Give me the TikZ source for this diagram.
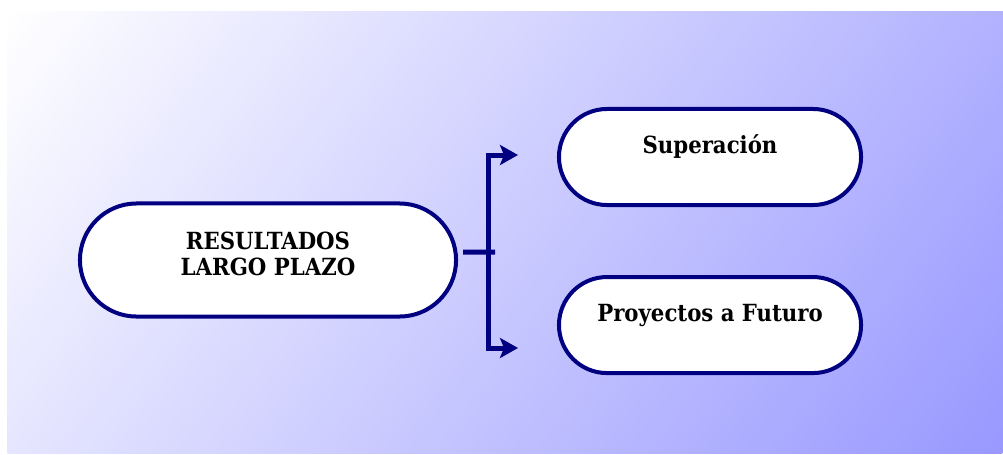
\documentclass[tikz,border=0pt]{standalone}
\usepackage{fontspec}
\setmainfont{DejaVu Serif Condensed}
\usepackage{tikz}
\usetikzlibrary{positioning,arrows.meta,shapes.misc}
\definecolor{navyline}{RGB}{0,0,128}
\definecolor{bgblue}{RGB}{152,152,255}

\begin{document}
\begin{tikzpicture}[x=0.025cm,y=-0.025cm,
	pillnode/.style={rounded rectangle, draw=navyline, fill=white, line width=0.1cm, inner sep=0pt, font=\bfseries\fontsize{16.8}{17.8}\selectfont},
	forkline/.style={draw=navyline, line width=0.125cm},
	]
	%Background
	\useasboundingbox (0,0) rectangle (1003,454);
	\begin{scope}
		\clip (7,11) rectangle (1003,453);
		\shade[left color=white, right color=bgblue, transform canvas={shift={(7,11)}, rotate=-36.6}] (0,-594) rectangle (1063,355);
	\end{scope}

	%Nodes
	\node[pillnode, minimum width=9.4cm, minimum height=2.825cm, align=center, text height=1cm, text depth=0.25cm] (res) at (268,260) {RESULTADOS\\LARGO PLAZO};
	\node[pillnode, minimum width=7.55cm, minimum height=2.4cm, text height=0.375cm, text depth=0.575cm] (sup) at (710,157) {Superación};
	\node[pillnode, minimum width=7.55cm, minimum height=2.4cm, text height=0.375cm, text depth=0.575cm] (proy) [below=1.7cm of sup] {Proyectos a Futuro};

	%Lines
	\coordinate (stubend) at (495,252);
	\coordinate (forktop) at (488,155);
	\coordinate (forkbot) at (488,348);
	\coordinate (tiptop) at (518,155);
	\coordinate (tipbot) at (518,348);
	\draw[forkline] ([xshift=0.125cm,yshift=0.2cm]res.east) -- (stubend);
	\draw[forkline, {Stealth[length=0.45cm,width=0.5cm,inset=0.1cm]}-{Stealth[length=0.45cm,width=0.5cm,inset=0.1cm]}] (tiptop) -- (forktop) -- (forkbot) -- (tipbot);

\end{tikzpicture}
\end{document}
